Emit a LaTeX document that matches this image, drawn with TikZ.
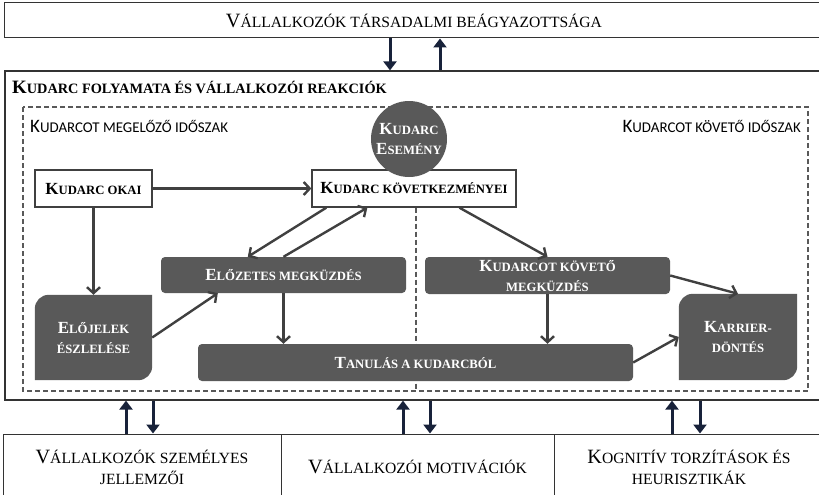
\documentclass[tikz,border=0pt]{standalone}
\usepackage{fontspec}
\setmainfont{Liberation Serif}
\newfontfamily\calib{Carlito}
\usetikzlibrary{arrows.meta}
\pgfdeclarelayer{bg}
\pgfsetlayers{bg,main}
\definecolor{darkfill}{HTML}{595959}
\definecolor{linegray}{HTML}{404040}
\definecolor{navy}{HTML}{18223A}
\def\kisksize{12.7}
\newcommand\kisk[1]{{\fontsize{\kisksize}{\kisksize}\selectfont\MakeUppercase{#1}}}
\tikzset{
    every node/.style={inner sep=0pt, align=center}
}
\tikzset{
    outerbox/.style={draw=black!80, line width=1pt, fill=white, font=\fontsize{20.3}{21}\selectfont\def\kisksize{15.6}},
    whitebox/.style={draw=linegray, line width=1.3pt, fill=white, font=\bfseries\fontsize{17}{20}\selectfont\def\kisksize{12.7}},
    darkbox/.style={text=white, font=\bfseries\fontsize{17}{20}\selectfont\def\kisksize{12.7}},
    period/.style={font=\calib\fontsize{19}{21}\selectfont\def\kisksize{14.9}},
    flow/.style={draw=linegray, line width=2.4pt, -{Straight Barb[length=6pt,width=13pt]}},
    link/.style={draw=navy, line width=3pt, -{Triangle[length=9pt,width=13pt]}}
}

\begin{document}
\begin{tikzpicture}[x=1pt, y=-1pt]
        \useasboundingbox (0,0) rectangle (819,495);
        \node (soc) [outerbox, minimum width=820pt, minimum height=35pt] at (414, 20.5) {V\kisk{ÁLLALKOZÓK TÁRSADALMI BEÁGYAZOTTSÁGA}};
        \node (pers) [outerbox, minimum width=278pt, minimum height=66pt] at (142, 467) {V\kisk{ÁLLALKOZÓK SZEMÉLYES}\\\kisk{JELLEMZŐI}};
        \node (motiv) [outerbox, minimum width=273pt, minimum height=66pt] at (417.5, 467) {V\kisk{ÁLLALKOZÓI MOTIVÁCIÓK}};
        \node (cogn) [outerbox, minimum width=270pt, minimum height=66pt] at (689, 467) {K\kisk{OGNITÍV TORZÍTÁSOK ÉS}\\\kisk{HEURISZTIKÁK}};
        \node (title) [anchor=west, font=\bfseries\fontsize{18.9}{20}\selectfont\def\kisksize{14.3}] at (12, 87) {K\kisk{UDARC FOLYAMATA ÉS VÁLLALKOZÓI REAKCIÓK}};
        \node (pre) [period, anchor=west] at (30, 126) {K\kisk{UDARCOT MEGELŐZŐ IDŐSZAK}};
        \node (post) [period, anchor=east] at (801, 126) {K\kisk{UDARCOT KÖVETŐ IDŐSZAK}};
        \node (okai) [whitebox, minimum width=117pt, minimum height=37pt] at (93.5, 188.5) {K\kisk{UDARC OKAI}};
        \node (kov) [whitebox, minimum width=204pt, minimum height=37pt] at (414, 188.5) {K\kisk{UDARC KÖVETKEZMÉNYEI}};
        \node (event) [circle, fill=darkfill, minimum size=76pt, darkbox] at (409, 139) {K\kisk{UDARC}\\E\kisk{SEMÉNY}};
        \node (elz) [darkbox, fill=darkfill, rounded corners=4pt, minimum width=245pt, minimum height=36pt] at (283.5, 275) {E\kisk{LŐZETES MEGKÜZDÉS}};
        \node (kmeg) [darkbox, fill=darkfill, rounded corners=4pt, minimum width=245pt, minimum height=37pt] at (547.5, 275.5) {K\kisk{UDARCOT KÖVETŐ}\\\kisk{MEGKÜZDÉS}};
        \node (tan) [darkbox, fill=darkfill, rounded corners=4pt, minimum width=435pt, minimum height=37pt] at (415.5, 362.5) {T\kisk{ANULÁS A KUDARCBÓL}};
        \node (elo) [darkbox, minimum width=117pt, minimum height=85pt] at (93.5, 337.5) {E\kisk{LŐJELEK}\\\kisk{ÉSZLELÉSE}};
        \node (kar) [darkbox, minimum width=118pt, minimum height=86pt] at (738, 337) {K\kisk{ARRIER-}\\\kisk{DÖNTÉS}};
        \begin{pgfonlayer}{bg}
                \node (main) [draw=black!80, line width=1.2pt, fill=white, minimum width=819pt, minimum height=329pt] at (414.5, 235.5) {};
                \draw [darkfill, line width=1.2pt, dash pattern=on 5pt off 3pt] (23, 107) rectangle (808, 391);
                \draw [darkfill, line width=1.2pt, dash pattern=on 5pt off 3pt] (kov.south) ++(2pt,0) coordinate (split) -- (split |- 0, 391);
                \fill [darkfill] ([yshift=-14pt]elo.north west) arc [start angle=180, end angle=90, radius=14pt] -- (elo.north east) -- ([yshift=14pt]elo.south east) arc [start angle=0, end angle=-90, radius=14pt] -- (elo.south west) -- cycle;
                \fill [darkfill] ([yshift=-14pt]kar.north west) arc [start angle=180, end angle=90, radius=14pt] -- (kar.north east) -- ([yshift=14pt]kar.south east) arc [start angle=0, end angle=-90, radius=14pt] -- (kar.south west) -- cycle;
        \end{pgfonlayer}
        \draw [flow] (okai) -- (kov);
        \draw [flow] (okai) -- (elo);
        \draw [flow] ([xshift=15pt]kov.south west) -- ([xshift=87pt]elz.north west);
        \draw [flow] (elz.north) -- ([xshift=56pt]kov.south west);
        \draw [flow] (elo.east) -- ([xshift=57pt]elz.south west);
        \draw [flow] (elz.south) -- (elz.south |- tan.north);
        \draw [flow] ([xshift=148pt]kov.south west) -- (kmeg.north);
        \draw [flow] (kmeg.south) -- (kmeg.south |- tan.north);
        \draw [flow] (kmeg.east) -- (kar.north);
        \draw [flow] (tan.east) -- (kar.west);
        \draw [link] ([xshift=-24pt]soc.south) -- ([xshift=-24pt]soc.south |- main.north);
        \draw [link] ([xshift=26pt]soc.south |- main.north) -- ([xshift=26pt]soc.south);
        \draw [link] ([xshift=-16pt]pers.north) -- ([xshift=-16pt]pers.north |- main.south);
        \draw [link] ([xshift=11pt]pers.north |- main.south) -- ([xshift=11pt]pers.north);
        \draw [link] ([xshift=-14.5pt]motiv.north) -- ([xshift=-14.5pt]motiv.north |- main.south);
        \draw [link] ([xshift=12.5pt]motiv.north |- main.south) -- ([xshift=12.5pt]motiv.north);
        \draw [link] ([xshift=-17pt]cogn.north) -- ([xshift=-17pt]cogn.north |- main.south);
        \draw [link] ([xshift=11pt]cogn.north |- main.south) -- ([xshift=11pt]cogn.north);
\end{tikzpicture}
\end{document}
